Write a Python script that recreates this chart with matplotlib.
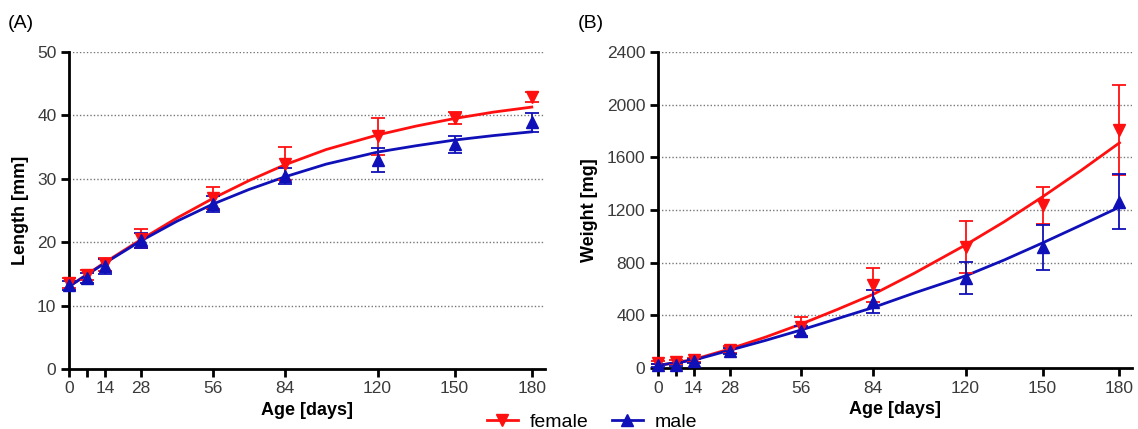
import matplotlib.pyplot as plt
from matplotlib.lines import Line2D

plt.rcParams['font.family'] = ['Liberation Sans', 'DejaVu Sans']

# sampling ages (days)
ages = [0, 7, 14, 28, 56, 84, 120, 150, 180]
tick_labels = ['0', '', '14', '28', '56', '84', '120', '150', '180']

# length [mm], mean and sd
len_female = [13.5, 14.8, 16.5, 20.5, 27.0, 32.4, 36.7, 39.6, 42.9]
len_female_sd = [0.8, 0.8, 1.0, 1.5, 1.7, 2.6, 2.9, 0.9, 0.8]
len_male = [13.2, 14.3, 16.2, 20.3, 26.0, 30.4, 33.0, 35.4, 38.9]
len_male_sd = [0.7, 0.8, 1.2, 1.2, 1.3, 1.3, 1.9, 1.3, 1.5]

# weight [mg], mean and sd
wt_female = [40, 45, 60, 140, 310, 630, 920, 1237, 1806]
wt_female_sd = [12, 15, 15, 25, 75, 130, 200, 140, 340]
wt_male = [20, 25, 55, 130, 280, 505, 683, 918, 1262]
wt_male_sd = [8, 10, 15, 20, 40, 90, 120, 170, 210]

# fitted growth curves
fit_ages = [0, 14, 28, 42, 56, 70, 84, 100, 120, 135, 150, 165, 180]
len_fit_female = [13.0, 16.8, 20.4, 23.8, 26.9, 29.7, 32.2, 34.6, 36.9, 38.3, 39.5, 40.5, 41.3]
len_fit_male = [13.0, 16.7, 20.2, 23.3, 26.0, 28.3, 30.3, 32.3, 34.2, 35.2, 36.1, 36.8, 37.4]
wt_fit_female = [20, 65, 145, 235, 335, 445, 560, 720, 935, 1110, 1300, 1500, 1710]
wt_fit_male = [20, 60, 135, 210, 290, 375, 460, 570, 700, 820, 950, 1085, 1222]

RED = '#ff1010'
BLUE = '#1010b8'

fig = plt.figure(figsize=(11.38, 4.29), dpi=100)
axA = fig.add_axes([0.0606, 0.140, 0.418, 0.739])
axB = fig.add_axes([0.578, 0.142, 0.417, 0.737])


def draw_panel(ax, fem, fem_sd, mal, mal_sd, fit_f, fit_m, ymax, ystep, ylabel):
    ax.plot(fit_ages, fit_f, color=RED, lw=2, zorder=3, clip_on=False)
    ax.plot(fit_ages, fit_m, color=BLUE, lw=2, zorder=3, clip_on=False)
    ax.errorbar(ages, fem, yerr=fem_sd, fmt='v', color=RED, ms=9, capsize=5,
                elinewidth=1.3, capthick=1.3, zorder=4, clip_on=False)
    ax.errorbar(ages, mal, yerr=mal_sd, fmt='^', color=BLUE, ms=9, capsize=5,
                elinewidth=1.3, capthick=1.3, zorder=4, clip_on=False)

    ax.set_xlim(0, 185)
    ax.set_ylim(0, ymax)
    ax.set_xticks(ages)
    ax.set_xticklabels(tick_labels)
    ax.set_yticks(range(0, ymax + 1, ystep))
    for y in range(ystep, ymax + 1, ystep):
        ax.axhline(y, color='#777777', lw=1, ls=(0, (1, 1.5)), zorder=1)

    for s in ['top', 'right']:
        ax.spines[s].set_visible(False)
    for s in ['left', 'bottom']:
        ax.spines[s].set_linewidth(2)
    ax.tick_params(direction='out', length=6, width=2, labelsize=12.5,
                   labelcolor='#3a3a3a', pad=3)
    ax.set_xlabel('Age [days]', fontsize=13, fontweight='bold', labelpad=4)
    ax.set_ylabel(ylabel, fontsize=13, fontweight='bold', labelpad=6)


draw_panel(axA, len_female, len_female_sd, len_male, len_male_sd,
           len_fit_female, len_fit_male, 50, 10, 'Length [mm]')
draw_panel(axB, wt_female, wt_female_sd, wt_male, wt_male_sd,
           wt_fit_female, wt_fit_male, 2400, 400, 'Weight [mg]')

fig.text(0.007, 0.935, '(A)', fontsize=14)
fig.text(0.508, 0.935, '(B)', fontsize=14)

handles = [Line2D([], [], color=RED, marker='v', ms=9, lw=2),
           Line2D([], [], color=BLUE, marker='^', ms=9, lw=2)]
fig.legend(handles, ['female', 'male'], loc='lower center', ncol=2,
           bbox_to_anchor=(0.52, -0.045), frameon=False, fontsize=14,
           handlelength=1.6, columnspacing=1.2, handletextpad=0.6)

fig.savefig('out.png', dpi=100)
